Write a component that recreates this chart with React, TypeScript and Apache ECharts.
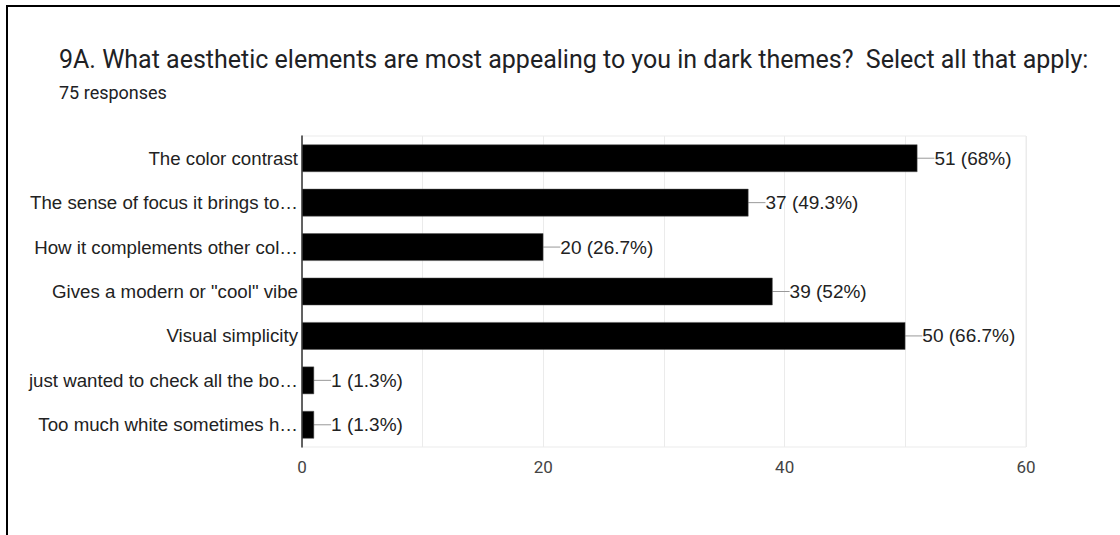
import React, { useEffect, useRef } from "react";
import * as echarts from "echarts";

const titleText = "9A. What aesthetic elements are most appealing to you in dark themes?  Select all that apply:";
const subtitleText = "75 responses";
const categories = [
  "The color contrast",
  "The sense of focus it brings to…",
  "How it complements other col…",
  'Gives a modern or "cool" vibe',
  "Visual simplicity",
  "just wanted to check all the bo…",
  "Too much white sometimes h…",
];
const counts = [51, 37, 20, 39, 50, 1, 1];
const percents = ["68%", "49.3%", "26.7%", "52%", "66.7%", "1.3%", "1.3%"];
const xTicks = [0, 20, 40, 60];

export default function App() {
  const ref = useRef<HTMLDivElement>(null);
  useEffect(() => {
    if (!ref.current) return;
    const chart = echarts.init(ref.current, null, { renderer: "svg" });
    chart.setOption({
      animation: false,
      backgroundColor: "#fff",
      graphic: [
        {
          type: "rect",
          shape: { x: 7, y: 6, width: 1200, height: 700 },
          style: { fill: "none", stroke: "#000", lineWidth: 2 },
          silent: true,
        },
        {
          type: "text",
          x: 59,
          y: 59,
          style: {
            text: titleText,
            font: '25px Roboto',
            fill: "#202124",
            verticalAlign: "middle",
          },
        },
        {
          type: "text",
          x: 59,
          y: 92,
          style: {
            text: subtitleText,
            font: '18px Roboto',
            fill: "#202124",
            verticalAlign: "middle",
          },
        },
      ],
      grid: {
        left: 302,
        right: 94,
        top: 136,
        bottom: 88,
        show: true,
        borderColor: "#ebebeb",
        borderWidth: 1,
      },
      xAxis: {
        type: "value",
        min: 0,
        max: 60,
        interval: 10,
        axisLine: { show: false },
        axisTick: { show: false },
        splitLine: { show: true, lineStyle: { color: "#ebebeb", width: 1 } },
        axisLabel: {
          color: "#444",
          fontFamily: "Roboto",
          fontSize: 17,
          margin: 11,
          formatter: (v: number) => (xTicks.includes(v) ? String(v) : ""),
        },
      },
      yAxis: {
        type: "category",
        data: categories,
        inverse: true,
        axisLine: { show: true, lineStyle: { color: "#333", width: 1.5 } },
        axisTick: { show: false },
        splitLine: { show: false },
        axisLabel: {
          color: "#222",
          fontFamily: "Liberation Sans",
          fontSize: 18.7,
          margin: 4,
        },
      },
      series: [
        {
          type: "bar",
          data: counts,
          barCategoryGap: "38%",
          itemStyle: { color: "#000", borderColor: "#555", borderWidth: 0.5 },
          label: {
            show: true,
            position: "right",
            distance: 2,
            color: "#222",
            fontFamily: "Liberation Sans",
            fontSize: 19,
            formatter: (p: any) => `${counts[p.dataIndex]} (${percents[p.dataIndex]})`,
          },
          labelLayout: { dx: 15 },
          labelLine: { show: true, lineStyle: { color: "#999", width: 1 } },
        },
      ],
    });
    return () => chart.dispose();
  }, []);
  return (
    <div
      ref={ref}
      style={{ position: "fixed", left: 0, top: 0, width: 1120, height: 535 }}
    />
  );
}
